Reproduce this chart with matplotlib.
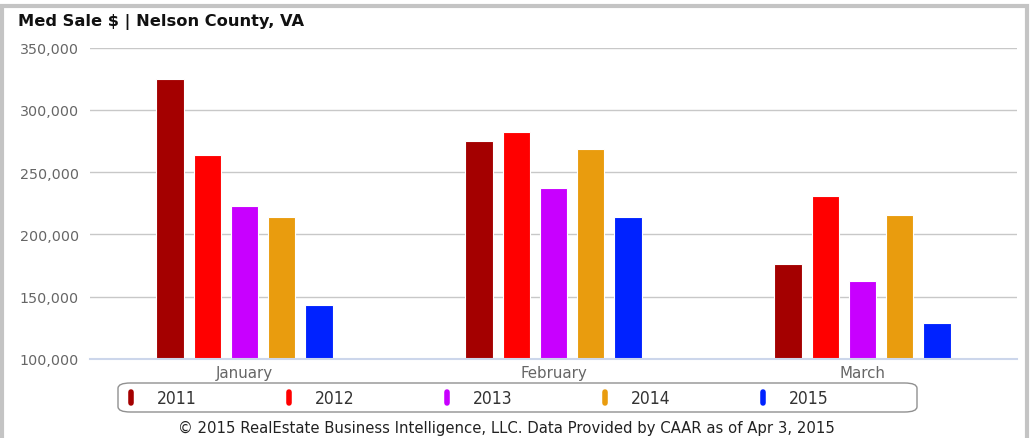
import matplotlib
matplotlib.use("Agg")
import matplotlib.pyplot as plt
import numpy as np
from matplotlib.patches import FancyBboxPatch, Rectangle
from matplotlib.lines import Line2D
from matplotlib.ticker import FuncFormatter

# Median sale price by month, one series per year
months = ["January", "February", "March"]
years = ["2011", "2012", "2013", "2014", "2015"]
price_2011 = [325000, 275000, 176000]
price_2012 = [264000, 282000, 231000]
price_2013 = [222500, 237000, 163000]
price_2014 = [214000, 268500, 216000]
price_2015 = [143000, 214000, 129000]
colors = ["#a40000", "#ff0000", "#c800ff", "#e99c0e", "#0022ff"]

series = [price_2011, price_2012, price_2013, price_2014, price_2015]

W, H = 1032, 439
fig = plt.figure(figsize=(W / 100, H / 100), dpi=100)
fig.patch.set_facecolor("white")

# outer frame
fig.add_artist(Rectangle((2 / W, -0.05), 1025 / W, 1 - 7 / H + 0.05,
                         transform=fig.transFigure, fill=False,
                         edgecolor="#c4c4c4", linewidth=3))

ax = fig.add_axes([90 / W, 1 - 360 / H, 927 / W, (360 - 48.7) / H])
x = np.arange(len(months))
step = 0.12
width = 0.09
for i, (vals, c) in enumerate(zip(series, colors)):
    ax.bar(x + (i - 2) * step, vals, width=width, color=c,
           edgecolor="white", linewidth=0.8, zorder=3)

ax.set_xlim(-0.5, len(months) - 0.5)
ax.set_ylim(100000, 350000)
ax.set_yticks(np.arange(100000, 350001, 50000))
ax.yaxis.set_major_formatter(FuncFormatter(lambda v, p: f"{int(v):,}"))
ax.set_xticks(x)
ax.set_xticklabels(months)
ax.tick_params(axis="both", length=0, labelcolor="#666666")
ax.tick_params(axis="y", pad=8, labelsize=10.3)
ax.tick_params(axis="x", pad=4, labelsize=10.8)
ax.grid(axis="y", color="#c8c8c8", linewidth=1, zorder=0)
for s in ["top", "right", "left"]:
    ax.spines[s].set_visible(False)
ax.spines["bottom"].set_color("#ccd6eb")
ax.spines["bottom"].set_linewidth(1.5)
ax.spines["bottom"].set_zorder(4)

fig.text(18 / W, 1 - 22 / H, "Med Sale $ | Nelson County, VA",
         fontsize=11.7, fontweight="bold", color="#111111", va="center", ha="left")

# legend box
fig.add_artist(FancyBboxPatch((118 / W, 1 - 413 / H), (917 - 118) / W, 29 / H,
                              boxstyle="round,pad=0,rounding_size=0.012",
                              transform=fig.transFigure, facecolor="white",
                              edgecolor="#909090", linewidth=1))
for i, (lab, c) in enumerate(zip(years, colors)):
    mx = (131 + 158 * i) / W
    fig.add_artist(Line2D([mx, mx], [1 - 404 / H, 1 - 393 / H],
                          transform=fig.transFigure, color=c,
                          linewidth=4, solid_capstyle="round"))
    fig.text((157 + 158 * i) / W, 1 - 399 / H, lab, fontsize=12.5,
             color="#333333", va="center", ha="left",
             family=["Liberation Sans Narrow", "DejaVu Sans"],
             fontstretch="condensed")

fig.text(506 / W, 1 - 428 / H,
         "\u00a9 2015 RealEstate Business Intelligence, LLC. Data Provided by CAAR as of Apr 3, 2015",
         fontsize=10.7, color="#222222", va="center", ha="center")

fig.savefig("out.png", dpi=100)
